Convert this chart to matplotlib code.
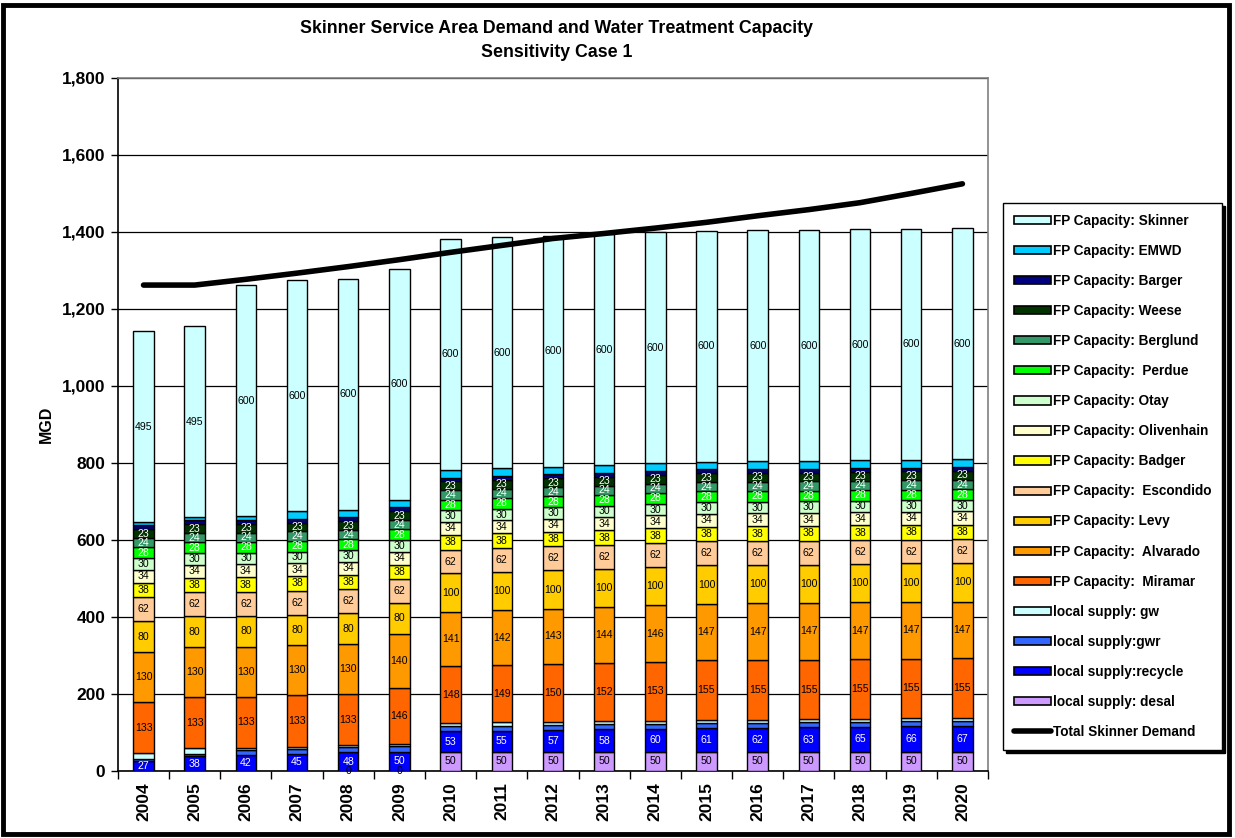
import numpy as np
import matplotlib

matplotlib.use("Agg")
import matplotlib.pyplot as plt
from matplotlib.lines import Line2D
from matplotlib.patches import Patch, Rectangle
from matplotlib.ticker import FuncFormatter, FixedLocator

years = [str(y) for y in range(2004, 2021)]

# local supply (MGD)
desal = [np.nan, np.nan, np.nan, np.nan, 0, 0] + [50] * 11
recycle = [27, 38, 42, 45, 48, 50, 53, 55, 57, 58, 60, 61, 62, 63, 65, 66, 67]
gwr = [5, 6, 12, 12, 13, 14] + [13] * 11
gw = [14, 15, 6, 6, 6, 6] + [8] * 11

# filtration plant capacity (MGD)
miramar = [133] * 5 + [146, 148, 149, 150, 152, 153, 155, 155, 155, 155, 155, 155]
alvarado = [130] * 5 + [140, 141, 142, 143, 144, 146, 147, 147, 147, 147, 147, 147]
levy = [80] * 6 + [100] * 11
escondido = [62] * 17
badger = [38] * 17
olivenhain = [34] * 17
otay = [30] * 17
perdue = [28] * 17
berglund = [24] * 17
weese = [23] * 17
barger = [10] * 17
emwd = [9, 9, 9] + [20] * 14
skinner = [495, 495] + [600] * 15

total_demand = [1262, 1262, 1277, 1293, 1310, 1328, 1347, 1365, 1383, 1396,
                1410, 1425, 1442, 1458, 1476, 1500, 1525]

# (legend name, values, fill colour, label colour or None when not labelled)
series = [
    ("local supply: desal", desal, "#CC99FF", "black"),
    ("local supply:recycle", recycle, "#0000FF", "white"),
    ("local supply:gwr", gwr, "#3366FF", None),
    ("local supply: gw", gw, "#CCFFFF", None),
    ("FP Capacity:  Miramar", miramar, "#FF6600", "black"),
    ("FP Capacity:  Alvarado", alvarado, "#FF9900", "black"),
    ("FP Capacity: Levy", levy, "#FFCC00", "black"),
    ("FP Capacity:  Escondido", escondido, "#FFCC99", "black"),
    ("FP Capacity: Badger", badger, "#FFFF00", "black"),
    ("FP Capacity: Olivenhain", olivenhain, "#FFFFCC", "black"),
    ("FP Capacity: Otay", otay, "#CCFFCC", "black"),
    ("FP Capacity:  Perdue", perdue, "#00FF00", "white"),
    ("FP Capacity: Berglund", berglund, "#339966", "white"),
    ("FP Capacity: Weese", weese, "#003300", "white"),
    ("FP Capacity: Barger", barger, "#000080", None),
    ("FP Capacity: EMWD", emwd, "#00CCFF", None),
    ("FP Capacity: Skinner", skinner, "#CCFFFF", "black"),
]

FONT = "Liberation Sans"


def plot_chart():
    fig = plt.figure(figsize=(12.35, 8.38), dpi=100)
    ax = fig.add_axes([0.0955, 0.080, 0.7045, 0.827])

    x = np.arange(len(years))
    bottom = np.zeros(len(years))
    handles = []

    for name, values, color, text_color in series:
        vals = np.array(values, dtype=float)
        heights = np.nan_to_num(vals)
        bars = ax.bar(x, heights, 0.4, bottom=bottom, color=color,
                      edgecolor="black", linewidth=1.0, zorder=3)
        if text_color is not None:
            labels = ["" if np.isnan(v) else f"{v:.0f}" for v in vals]
            ax.bar_label(bars, labels=labels, label_type="center",
                         fontsize=7.6, color=text_color, family=FONT, zorder=5)
        bottom += heights
        handles.append(Patch(facecolor=color, edgecolor="black",
                             linewidth=1.2, label=name))

    ax.plot(x, total_demand, color="black", linewidth=4,
            solid_capstyle="round", zorder=6)
    handles = handles[::-1]
    handles.append(Line2D([], [], color="black", linewidth=4,
                          solid_capstyle="round", label="Total Skinner Demand"))

    ax.set_xlim(-0.5, len(years) - 0.5)
    ax.set_ylim(0, 1800)
    ax.set_yticks(np.arange(0, 1801, 200))
    ax.yaxis.set_major_formatter(FuncFormatter(lambda v, p: f"{v:,.0f}"))
    ax.yaxis.grid(True, color="black", linewidth=0.9, zorder=0)
    ax.set_axisbelow(True)

    # year labels sit on the bars, tick marks between the categories
    ax.xaxis.set_major_locator(FixedLocator(np.arange(-0.5, len(years), 1.0)))
    ax.xaxis.set_minor_locator(FixedLocator(x))
    ax.set_xticklabels([], minor=False)
    ax.set_xticklabels(years, minor=True, rotation=90, fontsize=12.5,
                       fontweight="bold", family=FONT)
    ax.tick_params(axis="x", which="major", length=6, width=1, direction="out")
    ax.tick_params(axis="x", which="minor", length=0, pad=8)
    ax.tick_params(axis="y", length=5, width=1, pad=4)
    for lab in ax.get_yticklabels():
        lab.set_fontsize(12.5)
        lab.set_fontweight("bold")
        lab.set_family(FONT)

    for side in ("top", "right"):
        ax.spines[side].set_color("#808080")
        ax.spines[side].set_linewidth(1.2)
    for side in ("left", "bottom"):
        ax.spines[side].set_color("black")
        ax.spines[side].set_linewidth(1.2)

    ax.set_ylabel("MGD", fontsize=11.5, fontweight="bold", family=FONT,
                  labelpad=6)

    fig.text(0.451, 0.966, "Skinner Service Area Demand and Water Treatment Capacity",
             ha="center", va="center", fontsize=12.8, fontweight="bold", family=FONT)
    fig.text(0.451, 0.937, "Sensitivity Case 1", ha="center", va="center",
             fontsize=12.8, fontweight="bold", family=FONT)

    leg = fig.legend(handles=handles, loc="upper left",
                     bbox_to_anchor=(1003 / 1235, 1 - 203 / 838),
                     prop={"family": FONT, "weight": "bold", "size": 9.8},
                     handlelength=2.7, handleheight=0.55, handletextpad=0.15,
                     labelspacing=1.18, borderpad=0.8, borderaxespad=0,
                     fancybox=False, edgecolor="black", framealpha=1,
                     shadow={"color": "black", "alpha": 1})
    leg.get_frame().set_linewidth(1.0)

    # chart border
    fig.patches.append(Rectangle((3 / 1235, 4 / 838), 1226 / 1235, 829 / 838,
                                 transform=fig.transFigure, fill=False,
                                 edgecolor="black", linewidth=3.5, zorder=10))

    fig.savefig("out.png", dpi=100)


def main():
    plot_chart()


if __name__ == "__main__":
    main()
